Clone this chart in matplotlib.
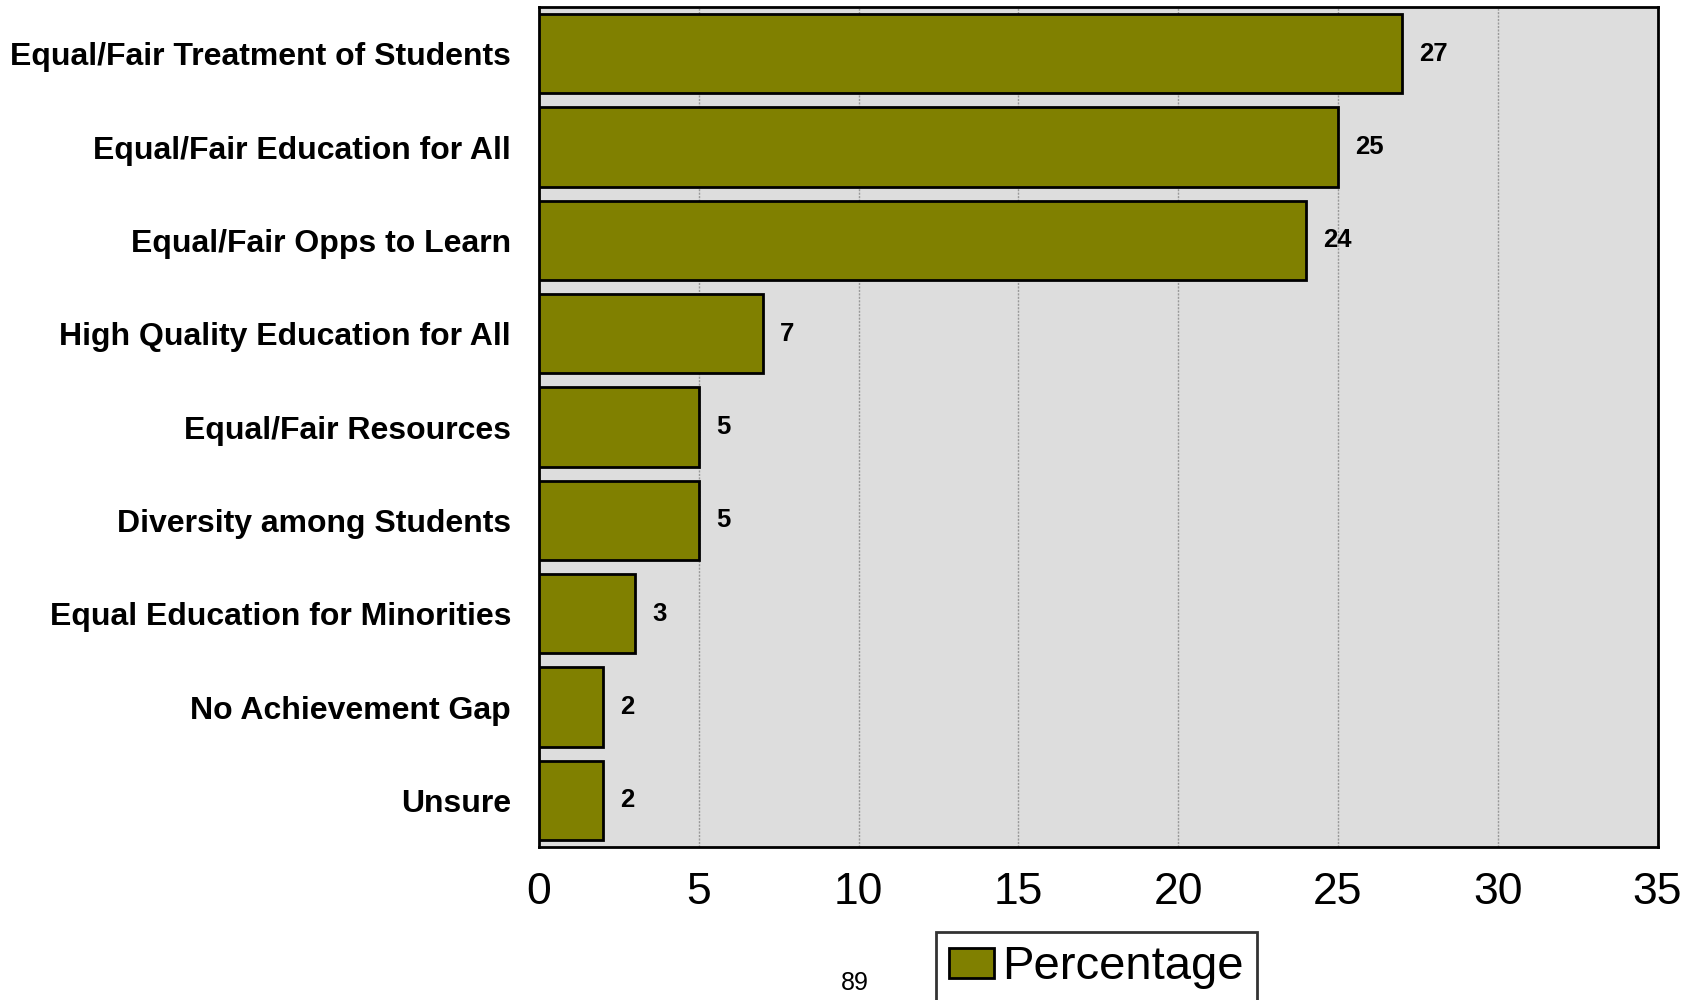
import matplotlib
matplotlib.use("Agg")
import matplotlib.pyplot as plt
import numpy as np

categories = [
    "Equal/Fair Treatment of Students",
    "Equal/Fair Education for All",
    "Equal/Fair Opps to Learn",
    "High Quality Education for All",
    "Equal/Fair Resources",
    "Diversity among Students",
    "Equal Education for Minorities",
    "No Achievement Gap",
    "Unsure",
]
values = [27, 25, 24, 7, 5, 5, 3, 2, 2]
xticks = [0, 5, 10, 15, 20, 25, 30, 35]

plt.rcParams["font.family"] = ["Liberation Sans", "DejaVu Sans"]

fig = plt.figure(figsize=(17, 10), dpi=100)
ax = fig.add_axes([0.317, 0.153, 0.658, 0.840])
ax.set_facecolor("#DDDDDD")

y = np.arange(len(categories))
bars = ax.barh(y, values, height=0.85, color="#808000", edgecolor="black",
               linewidth=2, label="Percentage", zorder=3)
for yi, v in zip(y, values):
    ax.text(v + 0.55, yi, str(v), va="center", ha="left", fontsize=18.5,
            fontweight="bold", zorder=4)

ax.set_ylim(len(categories) - 0.5, -0.5)
ax.set_xlim(0, 35)
ax.set_yticks(y)
ax.set_yticklabels(categories, fontsize=23, fontweight="bold")
ax.set_xticks(xticks)
ax.set_xticklabels([str(t) for t in xticks], fontsize=32)
ax.tick_params(axis="y", length=0, pad=20)
ax.tick_params(axis="x", length=0, pad=18)
ax.xaxis.grid(True, linestyle=(0, (1.5, 1)), color="#999999", linewidth=1, zorder=0)
for s in ax.spines.values():
    s.set_linewidth(2)

leg = fig.legend(handles=[bars], labels=["Percentage"], loc="upper left",
                 bbox_to_anchor=(936 / 1700, 1 - 932 / 1000), fontsize=34,
                 frameon=True, fancybox=False, edgecolor="black",
                 handlelength=0.95, handleheight=0.6, handletextpad=0.18,
                 borderpad=0.28, borderaxespad=0)
leg.get_frame().set_linewidth(2)

fig.text(855 / 1700, 1 - 983 / 1000, "89", ha="center", va="center", fontsize=18)

fig.savefig("out.png", dpi=100)
